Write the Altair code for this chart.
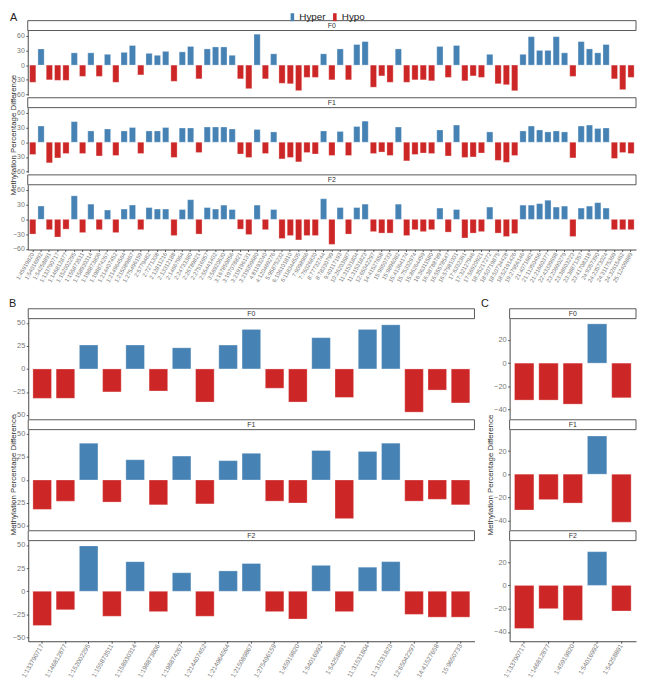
import altair as alt
import pandas as pd

# ---------------- data ----------------
facets = ["F0", "F1", "F2"]

a_sites = [
    "1:45919820", "1:54016992", "1:54258891", "1:133790717", "1:146812877", "1:152002295",
    "1:155873511", "1:158930314", "1:198873806", "1:198874267", "1:214407452", "1:214964564",
    "1:215089867", "1:275496159", "2:5779482", "2:7271308", "2:12811216", "2:13312188",
    "2:14667964", "2:24733380", "2:26789821", "2:27516957", "2:55441402", "3:56920630",
    "3:167850856", "3:197078821", "3:219196131", "3:219359680", "4:81193240", "4:120469276",
    "5:95875232", "6:106101810", "6:118344505", "7:9098966", "7:76026830", "8:77732744",
    "8:78330799", "9:40117193", "10:26203687", "11:31531804", "11:31531823", "12:65042297",
    "14:41527658", "15:9650733", "15:9896082", "15:41364174", "15:75332974", "15:86264459",
    "16:36311580", "16:38788789", "16:55578547", "16:57981001", "17:6332361", "17:32127946",
    "17:56920921", "18:35217272", "18:50719875", "18:50734428", "18:52191426", "19:27956146",
    "21:4071682", "21:11350456", "21:21660377", "22:43339698", "23:20690279", "23:38603223",
    "23:38871357", "23:41708318", "24:9357390", "24:23573024", "24:31175369", "24:32615462",
    "25:12409889",
]
a_f0 = [-35, 33, -30, -31, -31, 25, -23, 25, -23, 22, -35, 26, 40, -20, 24, 20, 28, -33, 27, 38,
        -28, 33, 37, 37, 20, -28, -48, 63, -28, 23, -37, -38, -52, -25, -25, 23, -30, 33, -30, 42,
        48, -45, -22, -35, 33, -35, -30, -30, -32, 38, -25, 40, -32, -22, -25, 22, -38, -40, -52, 22,
        58, 30, 30, 58, 25, -23, 48, 33, 25, 42, -28, -50, -25]
a_f1 = [-25, 33, -42, -32, -23, 42, -23, 23, -28, 27, -27, 23, 30, -23, 23, 23, 30, -31, 29, 29,
        -21, 31, 31, 31, 27, -24, -31, 26, -23, 21, -34, -31, -40, -21, -24, 23, -27, 22, -27, 32,
        43, -23, -20, -27, 31, -38, -25, -22, -23, 25, -28, 35, -31, -30, -22, 21, -37, -41, -27, 23,
        33, 25, 21, 23, 21, -32, 33, 35, 28, 29, -33, -21, -23]
a_f2 = [-30, 27, -21, -36, -20, 48, -27, 31, -21, 19, -27, 21, 29, -21, 24, 21, 21, -33, 20, 40,
        -30, 24, 21, 29, 20, -20, -31, 29, -21, 20, -39, -33, -42, -33, -33, 42, -51, 24, -30, 24,
        31, -25, -28, -28, 31, -33, -21, -25, -21, 23, -26, 20, -38, -28, -25, 25, -28, -35, -29, 29,
        29, 32, 39, 25, 27, -35, 23, 27, 34, 23, -21, -21, -21]

b_sites = ["1:133790717", "1:146812877", "1:152002295", "1:155873511", "1:158930314",
           "1:198873806", "1:198874267", "1:214407452", "1:214964564", "1:215089867",
           "1:275496159", "1:45919820", "1:54016992", "1:54258891", "11:31531804",
           "11:31531823", "12:65042297", "14:41527658", "15:9650733"]
b_f0 = [-32, -32, 26, -25, 26, -24, 23, -36, 26, 43, -21, -36, 34, -31, 43, 48, -47, -23, -37]
b_f1 = [-32, -23, 40, -24, 22, -27, 26, -26, 21, 29, -23, -25, 32, -42, 31, 40, -23, -21, -27]
b_f2 = [-37, -20, 49, -27, 32, -22, 20, -27, 22, 30, -22, -30, 28, -22, 26, 32, -25, -28, -28]

c_sites = ["1:133790717", "1:146812877", "1:45919820", "1:54016992", "1:54258891"]
c_f0 = [-32, -32, -35.5, 34, -30]
c_f1 = [-31, -22, -25, 33, -41.5]
c_f2 = [-37, -20, -30, 29, -22]

y_title = "Methylation Percentage Difference"
groups = ["Hyper", "Hypo"]

# ---------------- layout / style ----------------
W, H = 637, 677
BLUE, RED = "#4682B4", "#CD2626"
FONT = "Liberation Sans"
AXC = "#333333"
LBC = "#777777"

color_scale = alt.Scale(domain=groups, range=[BLUE, RED])
legend = alt.Legend(orient="none", legendX=283, legendY=0, direction="horizontal",
                    title=None, symbolType="M-0.45,-1H0.45V1H-0.45Z", symbolSize=64,
                    symbolStrokeWidth=0, labelFontSize=10, labelColor="#222222",
                    labelFont=FONT, padding=0, columnPadding=4, labelOffset=2)


def frame(sites, vals):
    return pd.DataFrame({"site": sites, "value": vals,
                         "dir": ["Hyper" if v > 0 else "Hypo" for v in vals]})


def bar_layer(sites, vals, xr, yr, dom, ticks, pin, pout, ylab_size,
              x_axis_y=None, xlab_size=6):
    df = frame(sites, vals)
    yaxis = alt.Axis(orient="left", offset=-xr[0], values=ticks, grid=False, title=None,
                     domainColor=AXC, domainWidth=0.9, tickColor=AXC, tickSize=2,
                     tickWidth=0.8, labelColor=LBC, labelFontSize=ylab_size,
                     labelPadding=1.5, labelFont=FONT)
    if x_axis_y is None:
        xaxis = None
    else:
        xaxis = alt.Axis(orient="bottom", offset=x_axis_y - H, title=None, labelAngle=300,
                         labelAlign="right", labelBaseline="middle", labelFontSize=xlab_size,
                         labelColor=LBC, labelFont=FONT, tickSize=2, tickColor=AXC,
                         tickWidth=0.8, domainColor=AXC, domainWidth=0.9, labelPadding=1,
                         labelOverlap=False)
    return alt.Chart(df).mark_bar(stroke="white", strokeWidth=0.6, strokeOpacity=0.5).encode(
        x=alt.X("site:N", sort=sites, title=None,
                scale=alt.Scale(range=list(xr), paddingInner=pin, paddingOuter=pout),
                axis=xaxis),
        y=alt.Y("value:Q", title=None,
                scale=alt.Scale(domain=dom, range=[yr[1], yr[0]], nice=False, zero=False),
                axis=yaxis),
        y2=alt.datum(0),
        fill=alt.Fill("dir:N", scale=color_scale, legend=legend),
    )


def txt(s, x, y, size, angle=0, align="left", baseline="alphabetic", color="#222222"):
    return alt.Chart(pd.DataFrame({"t": [s]})).mark_text(
        fontSize=size, angle=angle, align=align, baseline=baseline, color=color, font=FONT
    ).encode(text="t:N", x=alt.value(x), y=alt.value(y))


def strip(lbl, x0, x1, y0, y1):
    rect = alt.Chart(pd.DataFrame({"t": [lbl]})).mark_rect(
        fill="white", stroke="#444444", strokeWidth=0.9
    ).encode(x=alt.value(x0), x2=alt.value(x1), y=alt.value(y0), y2=alt.value(y1))
    return [rect, txt(lbl, (x0 + x1) / 2, (y0 + y1) / 2 + 0.5, 7, align="center",
                      baseline="middle", color="#333333")]


layers = []

# Panel A
xrA = (20, 636)
stripsA = [(8.5, 18.5), (86.6, 96.6), (164.7, 174.7)]
plotsA = [(18.5, 84.1), (96.6, 162.2), (174.7, 240.3)]
for i, (f, vals) in enumerate(zip(facets, [a_f0, a_f1, a_f2])):
    layers += strip(f, xrA[0], xrA[1], *stripsA[i])
    layers.append(bar_layer(a_sites, vals, xrA, plotsA[i], [-61.5, 70.5],
                            [-60, -30, 0, 30, 60], 0.25, 0.225, 7,
                            x_axis_y=plotsA[i][1] if i == 2 else None, xlab_size=5.8))

# Panels B and C
stripsB = [(300.3, 310.3), (412.7, 422.7), (525.1, 535.1)]
plotsB = [(310.3, 411.5), (422.7, 524.0), (535.1, 637.0)]
xrB = (20.5, 472.4)
xrC = (508, 636)
for i, f in enumerate(facets):
    layers += strip(f, xrB[0], xrB[1], *stripsB[i])
    layers.append(bar_layer(b_sites, [b_f0, b_f1, b_f2][i], xrB, plotsB[i], [-54, 54.7],
                            [-50, -25, 0, 25, 50], 0.2, 0.2, 7.5,
                            x_axis_y=plotsB[i][1] if i == 2 else None, xlab_size=6.5))
    layers += strip(f, xrC[0], xrC[1], *stripsB[i])
    layers.append(bar_layer(c_sites, [c_f0, c_f1, c_f2][i], xrC, plotsB[i], [-48, 38.5],
                            [-40, -20, 0, 20], 0.2, 0.2, 7.5,
                            x_axis_y=plotsB[i][1] if i == 2 else None, xlab_size=6.5))

# Panel tags and axis titles
layers.append(txt("A", 2, 8.5, 11))
layers.append(txt("B", 1, 299, 11))
layers.append(txt("C", 479, 299, 11))
layers.append(txt(y_title, 7.8, 124.4, 8, angle=270, align="center", color="#333333"))
layers.append(txt(y_title, 7.8, 468.7, 8, angle=270, align="center", color="#333333"))
layers.append(txt(y_title, 491, 468.7, 8, angle=270, align="center", color="#333333"))

chart = alt.layer(*layers).resolve_scale(
    x="independent", y="independent"
).resolve_axis(
    x="independent", y="independent"
).properties(
    width=W, height=H, padding=0, autosize=alt.AutoSizeParams(type="none")
).configure(font=FONT).configure_view(stroke=None)

chart.save("out.html", embed_options={"renderer": "svg", "actions": False})
